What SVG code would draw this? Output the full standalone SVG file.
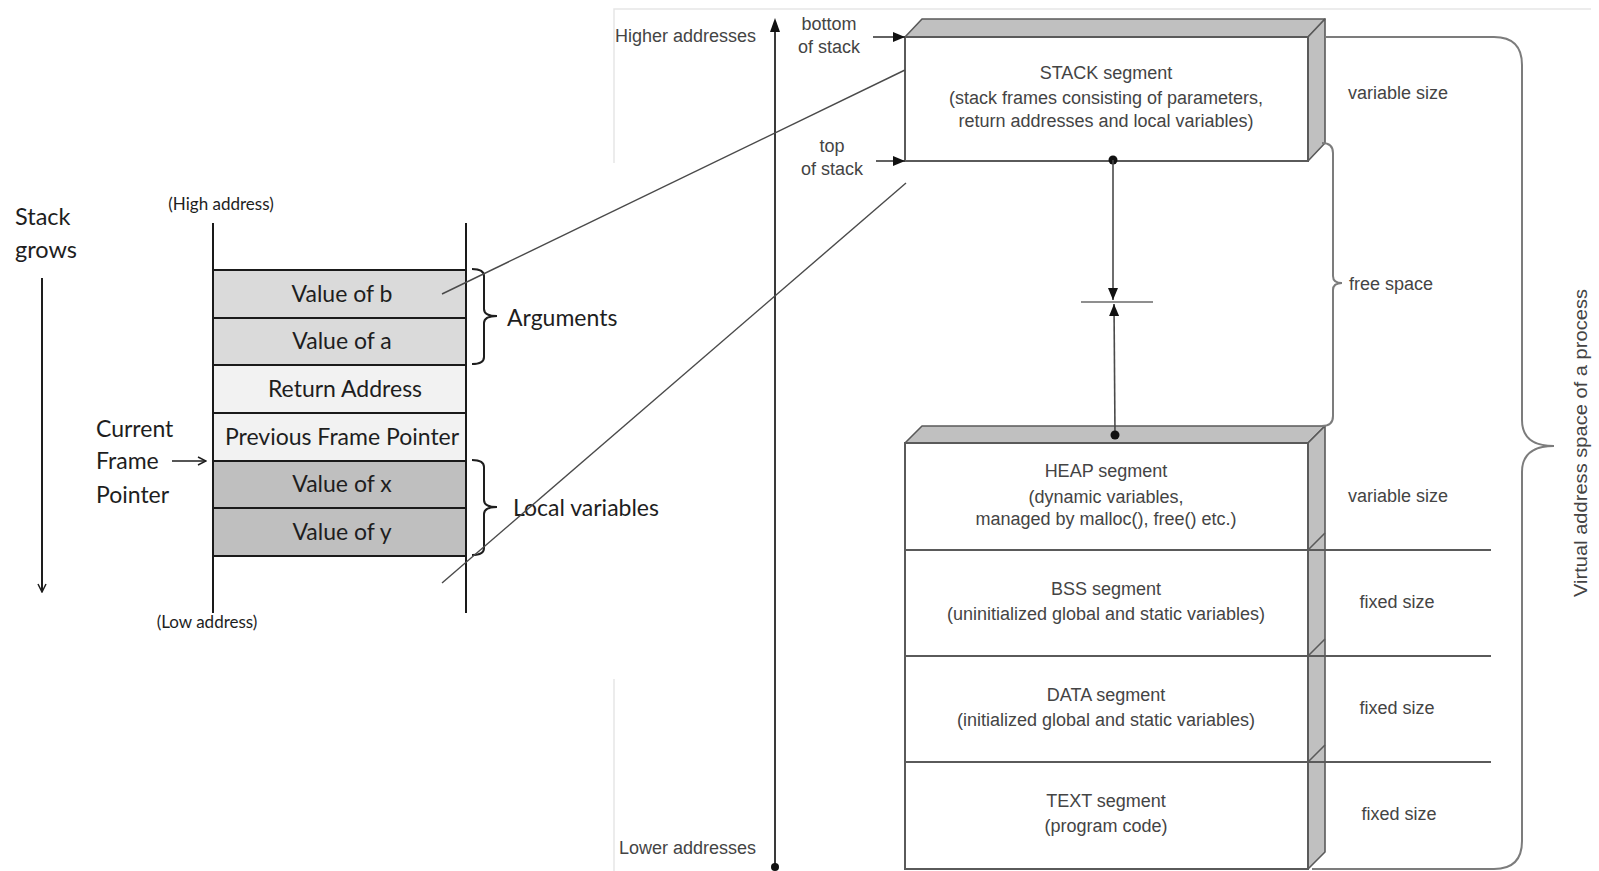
<svg xmlns="http://www.w3.org/2000/svg" width="1599" height="871" viewBox="0 0 1599 871">
  <style>
    .cal { font-family: Lato, "Open Sans", sans-serif; fill: #1e1e1e; }
    .cell { font-size: 23px; text-anchor: middle; }
    .small { font-size: 17px; }
    .ar { font-family: "Liberation Sans", Arial, sans-serif; font-size: 18px; fill: #444444; }
    .mid { text-anchor: middle; }
    .cellbox { stroke: #1a1a1a; stroke-width: 2; }
    .seg { fill: #ffffff; stroke: #5a5a5a; stroke-width: 2; }
    .bevel { fill: #c0c0c0; stroke: #5a5a5a; stroke-width: 1.6; stroke-linejoin: round; }
    .thin { stroke: #4a4a4a; stroke-width: 1.4; fill: none; }
    .brace { stroke: #1e1e1e; stroke-width: 2; fill: none; }
    .gbrace { stroke: #7c7c7c; stroke-width: 2; fill: none; }
  </style>
  <defs>
    <marker id="open" viewBox="0 0 10 10" refX="9" refY="5" markerWidth="10" markerHeight="10" markerUnits="userSpaceOnUse" orient="auto">
      <path d="M1,1 L9,5 L1,9" fill="none" stroke="#1e1e1e" stroke-width="1.5"/>
    </marker>
    <marker id="solid" viewBox="0 0 12 10" refX="12" refY="5" markerWidth="12" markerHeight="10" markerUnits="userSpaceOnUse" orient="auto">
      <path d="M0,0 L12,5 L0,10 Z" fill="#111"/>
    </marker>
  </defs>

  <rect x="0" y="0" width="1599" height="871" fill="#ffffff"/>

  <!-- faint frame of the address-space panel -->
  <g id="panel-frame" stroke="#e6e6e6" stroke-width="1.5" fill="none">
    <path d="M614,163 L614,9 L1591,9"/>
    <path d="M614,679 L614,871"/>
  </g>

  <!-- ===== stack frame (left) ===== -->
  <g id="stack-grows">
    <text class="cal" x="15" y="225" font-size="23.5">Stack</text>
    <text class="cal" x="15" y="258" font-size="23.5">grows</text>
    <line x1="42" y1="278" x2="42" y2="592" stroke="#1e1e1e" stroke-width="2" marker-end="url(#open)"/>
  </g>

  <g id="frame-rails" stroke="#1a1a1a" stroke-width="2">
    <line x1="213" y1="223" x2="213" y2="613"/>
    <line x1="466" y1="223" x2="466" y2="613"/>
  </g>
  <text id="high-address" class="cal small" x="221" y="210" text-anchor="middle">(High address)</text>
  <text id="low-address" class="cal small" x="207" y="628" text-anchor="middle">(Low address)</text>

  <g id="cell-b">
    <rect class="cellbox" x="213" y="270" width="253" height="48" fill="#dadada"/>
    <text class="cal cell" x="342" y="302">Value of b</text>
  </g>
  <g id="cell-a">
    <rect class="cellbox" x="213" y="318" width="253" height="47" fill="#dadada"/>
    <text class="cal cell" x="342" y="349">Value of a</text>
  </g>
  <g id="cell-ret">
    <rect class="cellbox" x="213" y="365" width="253" height="48" fill="#f2f2f2"/>
    <text class="cal cell" x="345" y="397">Return Address</text>
  </g>
  <g id="cell-pfp">
    <rect class="cellbox" x="213" y="413" width="253" height="48" fill="#f2f2f2"/>
    <text class="cal cell" x="342" y="445">Previous Frame Pointer</text>
  </g>
  <g id="cell-x">
    <rect class="cellbox" x="213" y="461" width="253" height="47" fill="#bfbfbf"/>
    <text class="cal cell" x="342" y="492">Value of x</text>
  </g>
  <g id="cell-y">
    <rect class="cellbox" x="213" y="508" width="253" height="48" fill="#bfbfbf"/>
    <text class="cal cell" x="342" y="540">Value of y</text>
  </g>

  <g id="current-frame-pointer">
    <text class="cal" x="96" y="437" font-size="23">Current</text>
    <text class="cal" x="96" y="469" font-size="23">Frame</text>
    <text class="cal" x="96" y="503" font-size="23">Pointer</text>
    <line x1="172" y1="461" x2="206" y2="461" stroke="#1e1e1e" stroke-width="1.6" marker-end="url(#open)"/>
  </g>

  <g id="arguments">
    <path class="brace" d="M472,269 Q484,269 484,276 L484,309 Q484,316 497,316 Q484,316 484,323 L484,357 Q484,364 472,364"/>
    <text class="cal" x="507" y="326" font-size="23">Arguments</text>
  </g>
  <g id="local-variables">
    <path class="brace" d="M472,460 Q484,460 484,467 L484,500 Q484,507 497,507 Q484,507 484,514 L484,548 Q484,555 472,555"/>
    <text class="cal" x="513" y="516" font-size="23">Local variables</text>
  </g>

  <!-- ===== process address space (right) ===== -->
  <g id="address-axis">
    <line x1="775" y1="30" x2="775" y2="866" stroke="#3a3a3a" stroke-width="2"/>
    <path d="M775,18 L780,32 L770,32 Z" fill="#111"/>
    <circle cx="775" cy="867" r="4" fill="#111"/>
    <text class="ar" x="615" y="42">Higher addresses</text>
    <text class="ar" x="619" y="854">Lower addresses</text>
  </g>

  <g id="bottom-of-stack">
    <text class="ar mid" x="829" y="30">bottom</text>
    <text class="ar mid" x="829" y="53">of stack</text>
  </g>
  <g id="top-of-stack">
    <text class="ar mid" x="832" y="152">top</text>
    <text class="ar mid" x="832" y="175">of stack</text>
  </g>

  <g id="stack-segment">
    <path class="bevel" d="M905,37 L922,19 L1325,19 L1308,37 Z"/>
    <path class="bevel" d="M1308,37 L1325,19 L1325,143 L1308,161 Z"/>
    <rect class="seg" x="905" y="37" width="403" height="124"/>
    <text class="ar mid" x="1106" y="79">STACK segment</text>
    <text class="ar mid" x="1106" y="104">(stack frames consisting of parameters,</text>
    <text class="ar mid" x="1106" y="127">return addresses and local variables)</text>
    <text class="ar mid" x="1398" y="99">variable size</text>
  </g>

  <g id="memory-segments">
    <path class="bevel" d="M905,443 L922,426 L1325,426 L1308,443 Z"/>
    <path class="bevel" d="M1308,443 L1325,426 L1325,852 L1308,869 Z"/>
    <rect class="seg" x="905" y="443" width="403" height="426"/>
    <g stroke="#5a5a5a" stroke-width="1.6">
      <line x1="1308" y1="550" x2="1325" y2="533"/>
      <line x1="1308" y1="656" x2="1325" y2="639"/>
      <line x1="1308" y1="762" x2="1325" y2="745"/>
    </g>
  </g>
  <g id="heap-segment">
    <line x1="905" y1="550" x2="1491" y2="550" stroke="#5a5a5a" stroke-width="2"/>
    <text class="ar mid" x="1106" y="477">HEAP segment</text>
    <text class="ar mid" x="1106" y="503">(dynamic variables,</text>
    <text class="ar mid" x="1106" y="525">managed by malloc(), free() etc.)</text>
    <text class="ar mid" x="1398" y="502">variable size</text>
  </g>
  <g id="bss-segment">
    <line x1="905" y1="656" x2="1491" y2="656" stroke="#5a5a5a" stroke-width="2"/>
    <text class="ar mid" x="1106" y="595">BSS segment</text>
    <text class="ar mid" x="1106" y="620">(uninitialized global and static variables)</text>
    <text class="ar mid" x="1397" y="608">fixed size</text>
  </g>
  <g id="data-segment">
    <line x1="905" y1="762" x2="1491" y2="762" stroke="#5a5a5a" stroke-width="2"/>
    <text class="ar mid" x="1106" y="701">DATA segment</text>
    <text class="ar mid" x="1106" y="726">(initialized global and static variables)</text>
    <text class="ar mid" x="1397" y="714">fixed size</text>
  </g>
  <g id="text-segment">
    <text class="ar mid" x="1106" y="807">TEXT segment</text>
    <text class="ar mid" x="1106" y="832">(program code)</text>
    <text class="ar mid" x="1399" y="820">fixed size</text>
  </g>

  <g id="free-space">
    <path class="gbrace" d="M1322,143 Q1333,143 1333,153 L1333,276 Q1333,283 1342,283 Q1333,283 1333,290 L1333,416 Q1333,426 1322,426"/>
    <text class="ar" x="1349" y="290">free space</text>
  </g>

  <g id="virtual-address-space">
    <path class="gbrace" d="M1325,37 L1494,37 Q1522,37 1522,65 L1522,420 Q1522,446 1554,446 Q1522,446 1522,472 L1522,841 Q1522,869 1494,869 L1312,869"/>
    <text class="ar mid" transform="translate(1587,443) rotate(-90)" textLength="308" lengthAdjust="spacingAndGlyphs">Virtual address space of a process</text>
  </g>

  <!-- connectors -->
  <g id="connectors">
    <line x1="873" y1="37" x2="905" y2="37" stroke="#3a3a3a" stroke-width="1.6" marker-end="url(#solid)"/>
    <line x1="876" y1="161" x2="905" y2="161" stroke="#3a3a3a" stroke-width="1.6" marker-end="url(#solid)"/>
    <circle cx="1113" cy="160" r="4.5" fill="#111"/>
    <line x1="1113" y1="160" x2="1113" y2="300" stroke="#4a4a4a" stroke-width="1.6" marker-end="url(#solid)"/>
    <line x1="1081" y1="302" x2="1153" y2="302" stroke="#6a6a6a" stroke-width="1.6"/>
    <line x1="1115" y1="435" x2="1114" y2="304" stroke="#4a4a4a" stroke-width="1.6" marker-end="url(#solid)"/>
    <circle cx="1115" cy="435" r="4.5" fill="#111"/>
    <line class="thin" x1="442" y1="294" x2="905" y2="70"/>
    <line class="thin" x1="442" y1="583" x2="906" y2="183"/>
  </g>
</svg>
